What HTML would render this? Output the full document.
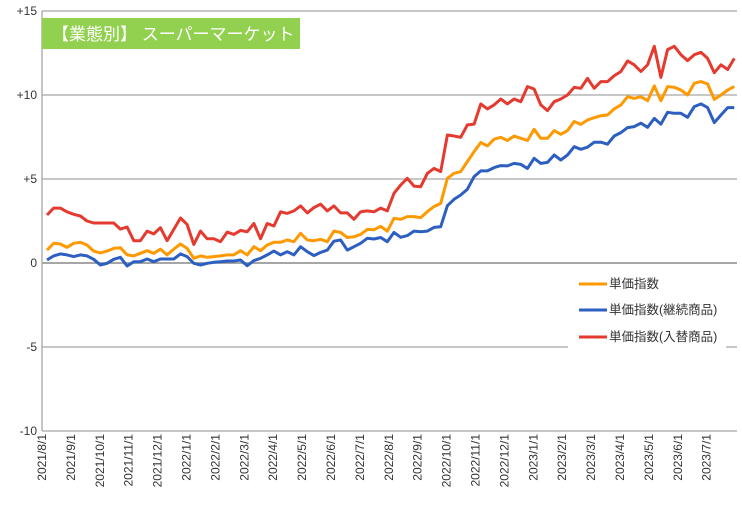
<!DOCTYPE html>
<html><head><meta charset="utf-8">
<style>
body{margin:0;background:#fff;}
svg{display:block;font-family:"Liberation Sans","Noto Sans CJK JP",sans-serif;}
</style></head>
<body>
<svg id="chart" width="742" height="510" viewBox="0 0 742 510" xmlns="http://www.w3.org/2000/svg">
<rect x="0" y="0" width="742" height="510" fill="#fff"/>
<g id="grid"></g>
<g id="yticks"></g>
<g id="xticks"></g>
<g id="series"></g>
<g>
<rect x="42" y="18" width="258" height="31" fill="#92d050"/>
<text x="52" y="40" font-size="17" fill="#fff">【業態別】 スーパーマーケット</text>
</g>
<g>
<rect x="568" y="266" width="158" height="84" fill="#fff"/>
<g><line x1="579" y1="284" x2="607" y2="284" stroke="#ff9900" stroke-width="3"/><text x="609" y="288" font-size="12.5" fill="#333">単価指数</text></g>
<g><line x1="579" y1="310" x2="607" y2="310" stroke="#2c5fbf" stroke-width="3"/><text x="609" y="314" font-size="12.5" fill="#333">単価指数(継続商品)</text></g>
<g><line x1="579" y1="337" x2="607" y2="337" stroke="#e53a2f" stroke-width="3"/><text x="609" y="341" font-size="12.5" fill="#333">単価指数(入替商品)</text></g>
</g>
</svg>
<script>
const yTicks=[15,10,5,0,-5,-10];
const yTickLabels=["+15","+10","+5","0","-5","-10"];
const xLabels=["2021/8/1","2021/9/1","2021/10/1","2021/11/1","2021/12/1","2022/1/1","2022/2/1","2022/3/1","2022/4/1","2022/5/1","2022/6/1","2022/7/1","2022/8/1","2022/9/1","2022/10/1","2022/11/1","2022/12/1","2023/1/1","2023/2/1","2023/3/1","2023/4/1","2023/5/1","2023/6/1","2023/7/1"];
const unitPrice=[0.77,1.17,1.13,0.93,1.17,1.23,1.07,0.71,0.6,0.71,0.87,0.91,0.48,0.42,0.58,0.73,0.58,0.83,0.48,0.83,1.13,0.87,0.28,0.42,0.34,0.38,0.42,0.48,0.48,0.73,0.48,0.97,0.73,1.07,1.23,1.23,1.37,1.27,1.77,1.37,1.33,1.41,1.27,1.9,1.82,1.52,1.56,1.7,2.0,1.98,2.18,1.9,
2.66,2.6,2.76,2.76,2.7,3.06,3.36,3.55,5.04,5.34,5.44,6.04,6.63,7.17,6.97,7.37,7.48,7.29,7.56,7.42,7.29,7.96,7.42,7.42,7.88,7.66,7.88,8.42,8.25,8.51,8.65,8.77,8.81,9.17,9.41,9.9,9.8,9.9,9.66,10.54,9.66,10.5,10.46,10.3,10.0,10.7,10.8,10.66,9.74,10.0,10.3,10.5];
const continuing=[0.18,0.42,0.54,0.48,0.38,0.48,0.42,0.22,-0.12,-0.02,0.22,0.34,-0.18,0.08,0.08,0.24,0.08,0.24,0.24,0.24,0.54,0.38,-0.02,-0.12,-0.02,0.04,0.08,0.12,0.12,0.18,-0.16,0.14,0.28,0.48,0.71,0.48,0.67,0.48,0.97,0.67,0.44,0.63,0.77,1.3,1.37,0.77,0.97,1.17,1.47,1.43,1.52,1.27,
1.82,1.53,1.63,1.9,1.86,1.9,2.12,2.16,3.41,3.79,4.05,4.39,5.14,5.48,5.48,5.68,5.8,5.78,5.93,5.87,5.63,6.23,5.93,5.99,6.43,6.13,6.43,6.92,6.77,6.89,7.19,7.19,7.07,7.56,7.76,8.06,8.12,8.32,8.08,8.61,8.27,8.97,8.91,8.91,8.67,9.31,9.47,9.25,8.36,8.81,9.25,9.25];
const replaced=[2.86,3.27,3.27,3.05,2.9,2.8,2.5,2.38,2.38,2.38,2.38,2.02,2.14,1.33,1.33,1.9,1.73,2.1,1.33,2.0,2.68,2.3,1.1,1.9,1.44,1.44,1.27,1.84,1.7,1.94,1.86,2.35,1.44,2.35,2.2,3.05,2.95,3.1,3.4,2.98,3.3,3.5,3.1,3.4,2.98,2.98,2.6,3.05,3.1,3.05,3.27,3.1,
4.15,4.64,5.04,4.58,4.54,5.34,5.63,5.44,7.62,7.56,7.48,8.22,8.27,9.47,9.17,9.41,9.76,9.47,9.76,9.6,10.5,10.36,9.41,9.07,9.6,9.76,10.0,10.46,10.4,10.99,10.4,10.8,10.8,11.14,11.4,12.03,11.8,11.4,11.8,12.9,11.05,12.7,12.9,12.4,12.05,12.4,12.54,12.18,11.33,11.8,11.52,12.18];

const NS="http://www.w3.org/2000/svg";
const X0=42,X1=737,Y0=263,PX=16.8;
function yScale(v){return Y0-v*PX;}
function xIdx(i){return 47+i*(X1-47)/103.4;}
function xMonth(i){return X0+i*28.9;}
function mk(t,a,p){const e=document.createElementNS(NS,t);for(const k in a)e.setAttribute(k,a[k]);p.appendChild(e);return e;}
const grid=document.getElementById('grid');
const yt=document.getElementById('yticks');
yTicks.forEach((v,i)=>{
  const l=mk('line',{x1:X0,x2:X1,y1:yScale(v),y2:yScale(v),stroke:v===0?'#888':'#a6a6a6','stroke-width':v===0?1.5:1.3},grid);
  
  
  const t=mk('text',{x:37,y:yScale(v)+4,'text-anchor':'end','font-size':12,fill:'#333'},yt);
  t.textContent=yTickLabels[i];
  
  
});
const ax=mk('line',{x1:X0,x2:X0,y1:yScale(15),y2:yScale(-10),stroke:'#a6a6a6','stroke-width':1.3},grid);


const xt=document.getElementById('xticks');
xLabels.forEach((s,i)=>{
  const x=xMonth(i)+4;
  const t=mk('text',{x:x,y:434,'text-anchor':'end','font-size':12,fill:'#333',transform:'rotate(-90 '+x+' 434)'},xt);
  t.textContent=s;
  
  
});
const sg=document.getElementById('series');
[[unitPrice,'#ff9900','line-unit-price'],[continuing,'#2c5fbf','line-continuing'],[replaced,'#e53a2f','line-replaced']].forEach(([d,c,n])=>{
  const pts=d.map((v,i)=>xIdx(i).toFixed(1)+','+yScale(v).toFixed(1)).join(' ');
  const p=mk('polyline',{points:pts,fill:'none',stroke:c,'stroke-width':3,'stroke-linejoin':'round'},sg);
  
  
});
</script>
</body></html>
